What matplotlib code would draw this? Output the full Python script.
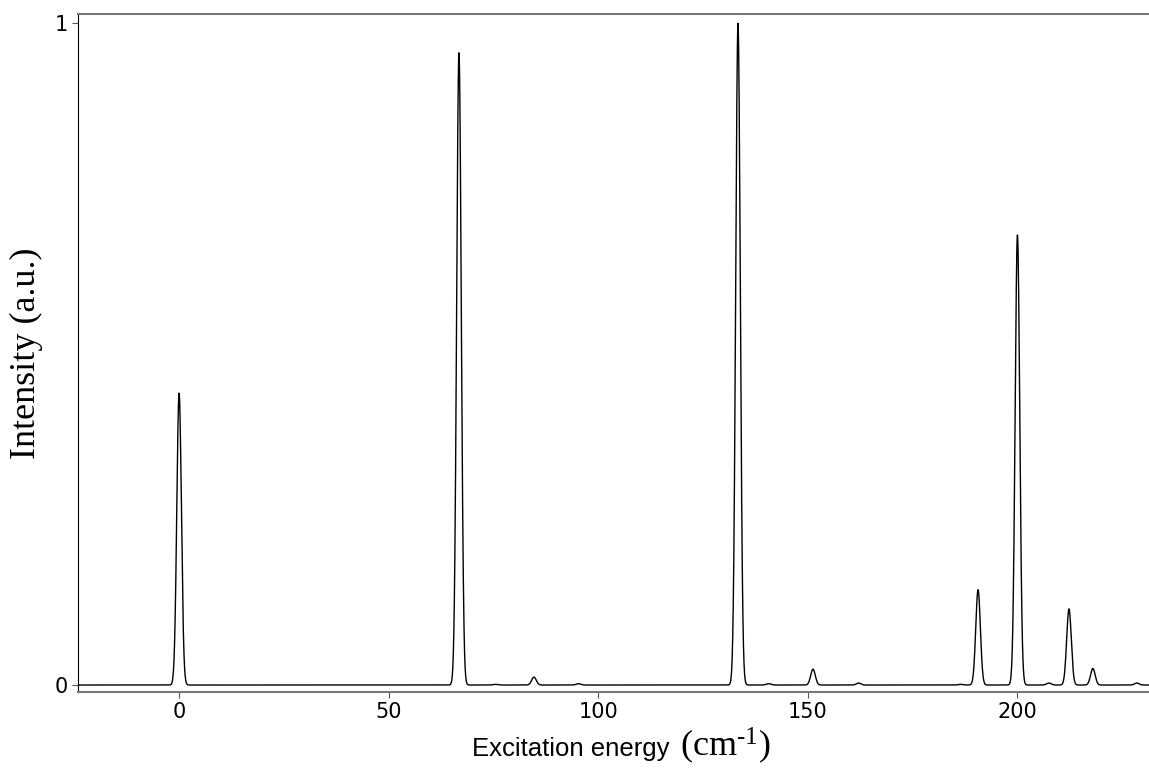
import numpy as np
import matplotlib.pyplot as plt

plt.rcParams['mathtext.fontset'] = 'custom'
plt.rcParams['mathtext.rm'] = 'Liberation Serif'
plt.rcParams['mathtext.it'] = 'Liberation Serif:italic'

# peak positions (cm^-1) and relative intensities
peak_pos = [0.0, 66.8, 75.5, 84.7, 95.3, 133.4, 140.7, 151.3, 162.2, 186.5,
            190.7, 200.1, 207.6, 212.4, 218.1, 228.6]
peak_int = [0.441, 0.955, 0.001, 0.012, 0.002, 1.0, 0.002, 0.024, 0.003, 0.001,
            0.144, 0.680, 0.003, 0.115, 0.025, 0.003]
width = 0.55  # gaussian sigma used for the broadening

x_ticks = [0, 50, 100, 150, 200]
x_ticklabels = ['0', '50', '100', '150', '200']
y_ticks = [0, 1]
y_ticklabels = ['0', '1']

x = np.linspace(-25, 232, 6000)
y = np.zeros_like(x)
for p, h in zip(peak_pos, peak_int):
    y += h * np.exp(-0.5 * ((x - p) / width) ** 2)

W, H = 1149, 771
fig = plt.figure(figsize=(W / 100, H / 100), dpi=100)
ax = fig.add_axes([0.068, 0.1025, 0.932, 0.8793])
ax.plot(x, y, color='black', lw=1.0)

ax.set_xlim(-24.1, 231.5)
ax.set_ylim(-0.0105, 1.0135)
ax.set_xticks(x_ticks)
ax.set_xticklabels(x_ticklabels, family='DejaVu Sans')
ax.set_yticks(y_ticks)
ax.set_yticklabels(y_ticklabels, family='DejaVu Sans')
ax.tick_params(labelsize=15, length=4, color='#555555')

ax.spines['right'].set_visible(False)
ax.spines['top'].set_color('#777777')
ax.spines['bottom'].set_color('#777777')
ax.spines['top'].set_linewidth(1.5)
ax.spines['bottom'].set_linewidth(1.5)
ax.spines['left'].set_color('black')

# x label: sans text plus a bigger serif unit part
fig.text(472 / W, 1 - 756 / H, 'Excitation energy', fontsize=18.5,
         family='Liberation Sans', ha='left', va='baseline')
fig.text(680 / W, 1 - 756 / H, r'$\mathrm{(cm}^{\text{-}1}\mathrm{)}$', fontsize=26,
         ha='left', va='baseline')
ax.set_ylabel('Intensity (a.u.)', fontsize=26, family='Liberation Serif', labelpad=8)

plt.savefig('out.png', dpi=100)
